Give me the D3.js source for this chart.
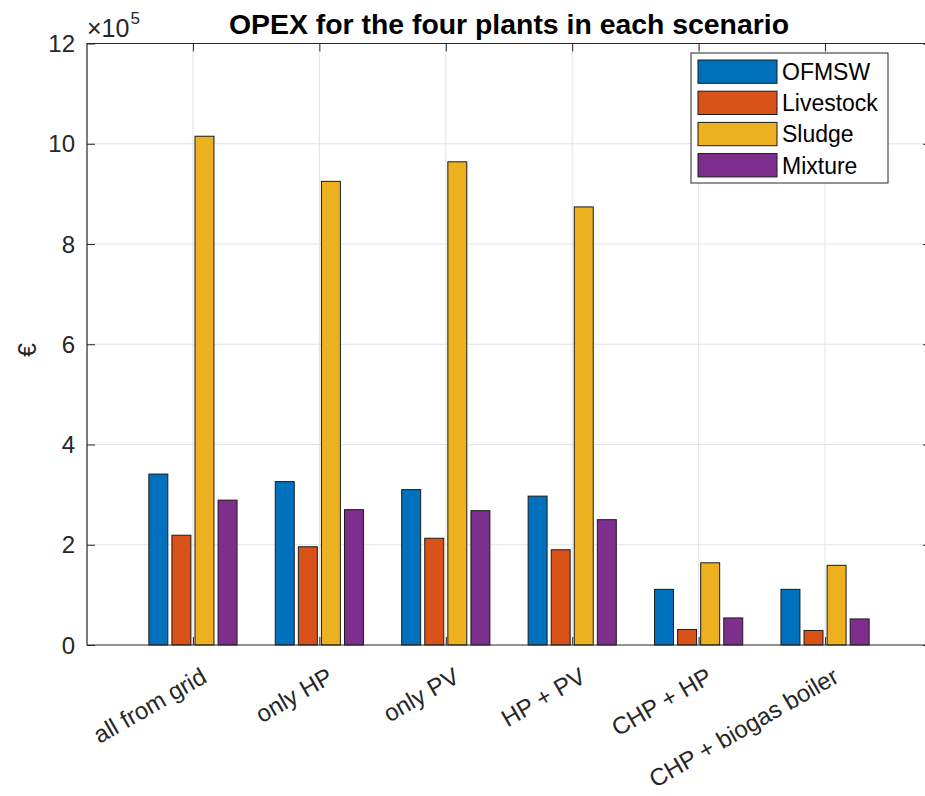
<!DOCTYPE html>
<html>
<head>
<meta charset="utf-8">
<script src="https://cdn.jsdelivr.net/npm/d3@7"></script>
<style>
  html, body { margin: 0; padding: 0; background: #fff; }
  svg { display: block; }
  text { font-family: "Liberation Sans", Arial, Helvetica, sans-serif; }
</style>
</head>
<body>
<svg id="chart" width="925" height="796"></svg>
<script>
// Scenarios on the x axis
const categories = ["all from grid", "only HP", "only PV", "HP + PV", "CHP + HP", "CHP + biogas boiler"];

// Plant names, one series each
const seriesNames = ["OFMSW", "Livestock", "Sludge", "Mixture"];

// OPEX per plant and scenario, in €
const ofmsw     = [341000, 326000, 310000, 297000, 111000, 111000];
const livestock = [219000, 196000, 213000, 190000, 31000, 29000];
const sludge    = [1015000, 925000, 964000, 874000, 164000, 159000];
const mixture   = [289000, 270000, 268000, 250000, 54000, 52000];

// Y axis ticks, shown in units of 10^5
const yTicks = [0, 200000, 400000, 600000, 800000, 1000000, 1200000];

const seriesValues = [ofmsw, livestock, sludge, mixture];
const colors = ["#0072BD", "#D95319", "#EDB120", "#7E2F8E"];

const svg = d3.select("#chart");
const axisColor = "#262626";
const gridColor = "#e3e3e3";

const plot = { left: 87, right: 931, top: 43.5, bottom: 645 };

// Category positions are 1..n; the axis reaches a bit past each end
const x = d3.scaleLinear().domain([0.162, categories.length + 0.838]).range([plot.left, plot.right]);
const y = d3.scaleLinear().domain([0, 1200000]).range([plot.bottom, plot.top]);

const pitch = 0.1825;    // spacing between bars inside a group (category units)
const barW = 0.15;       // bar width (category units)

svg.append("rect").attr("width", 925).attr("height", 796).attr("fill", "#fff");

// Grid lines
svg.append("g").selectAll("line.hg").data(yTicks.slice(1, -1)).join("line")
  .attr("x1", plot.left).attr("x2", plot.right)
  .attr("y1", d => y(d)).attr("y2", d => y(d))
  .attr("stroke", gridColor).attr("stroke-width", 1);
svg.append("g").selectAll("line.vg").data(categories).join("line")
  .attr("x1", (d, i) => x(i + 1)).attr("x2", (d, i) => x(i + 1))
  .attr("y1", plot.top).attr("y2", plot.bottom)
  .attr("stroke", gridColor).attr("stroke-width", 1);

// Bars
seriesValues.forEach((vals, s) => {
  svg.append("g").selectAll("rect").data(vals).join("rect")
    .attr("x", (d, i) => x(i + 1 + (s - 1.5) * pitch - barW / 2))
    .attr("width", x(barW) - x(0))
    .attr("y", d => y(d))
    .attr("height", d => y(0) - y(d))
    .attr("fill", colors[s])
    .attr("stroke", "#1a1a1a")
    .attr("stroke-width", 1);
});

// Axes (ticks pointing inward on all sides)
const yAxisL = d3.axisRight(y).tickValues(yTicks).tickSize(8).tickFormat("");
svg.append("g").attr("transform", `translate(${plot.left},0)`).call(yAxisL)
  .call(g => g.select(".domain").remove())
  .selectAll("line").attr("stroke", axisColor);
const yAxisR = d3.axisLeft(y).tickValues(yTicks).tickSize(8).tickFormat("");
svg.append("g").attr("transform", `translate(${plot.right},0)`).call(yAxisR)
  .call(g => g.select(".domain").remove())
  .selectAll("line").attr("stroke", axisColor);

const xAxisB = d3.axisTop(x).tickValues(d3.range(1, categories.length + 1)).tickSize(8).tickFormat("");
svg.append("g").attr("transform", `translate(0,${plot.bottom})`).call(xAxisB)
  .call(g => g.select(".domain").remove())
  .selectAll("line").attr("stroke", axisColor);
const xAxisT = d3.axisBottom(x).tickValues(d3.range(1, categories.length + 1)).tickSize(8).tickFormat("");
svg.append("g").attr("transform", `translate(0,${plot.top})`).call(xAxisT)
  .call(g => g.select(".domain").remove())
  .selectAll("line").attr("stroke", axisColor);

// Frame
svg.append("path")
  .attr("d", `M${plot.right},${plot.top}H${plot.left}V${plot.bottom}H${plot.right}`)
  .attr("fill", "none").attr("stroke", axisColor).attr("stroke-width", 1.2);

// Y tick labels
svg.append("g").selectAll("text").data(yTicks).join("text")
  .attr("x", plot.left - 12).attr("y", d => y(d))
  .attr("text-anchor", "end").attr("dominant-baseline", "central")
  .attr("font-size", 24).attr("fill", axisColor)
  .text(d => d3.format("d")(d / 100000));

// Exponent label
const expo = svg.append("text").attr("x", 87).attr("y", 37).attr("font-size", 25).attr("fill", axisColor);
expo.append("tspan").text("×10");
expo.append("tspan").attr("font-size", 17).attr("dx", 1).attr("dy", -13).text("5");

// X tick labels, rotated
svg.append("g").selectAll("text").data(categories).join("text")
  .attr("transform", (d, i) => `translate(${x(i + 1) + 11},${plot.bottom + 29}) rotate(-30)`)
  .attr("text-anchor", "end").attr("dominant-baseline", "central")
  .attr("font-size", 24).attr("fill", axisColor)
  .text(d => d);

// Y axis title
svg.append("text")
  .attr("transform", `translate(27,350) rotate(-90)`)
  .attr("text-anchor", "middle").attr("dominant-baseline", "central")
  .attr("font-size", 25).attr("fill", axisColor)
  .text("€");

// Chart title
svg.append("text")
  .attr("x", (plot.left + plot.right) / 2).attr("y", 34)
  .attr("text-anchor", "middle")
  .attr("font-size", 28.4).attr("font-weight", "bold").attr("fill", "#000")
  .text("OPEX for the four plants in each scenario");

// Legend
const legend = svg.append("g");
legend.append("rect")
  .attr("x", 691).attr("y", 53).attr("width", 197).attr("height", 130)
  .attr("fill", "#fff").attr("stroke", axisColor).attr("stroke-width", 1);
seriesNames.forEach((name, s) => {
  const yy = 60 + s * 31.2;
  legend.append("rect")
    .attr("x", 698).attr("y", yy).attr("width", 79).attr("height", 23.3)
    .attr("fill", colors[s]).attr("stroke", "#1a1a1a").attr("stroke-width", 1);
  legend.append("text")
    .attr("x", 782).attr("y", yy + 12)
    .attr("dominant-baseline", "central")
    .attr("font-size", 23).attr("fill", "#000")
    .text(name);
});
</script>
</body>
</html>
